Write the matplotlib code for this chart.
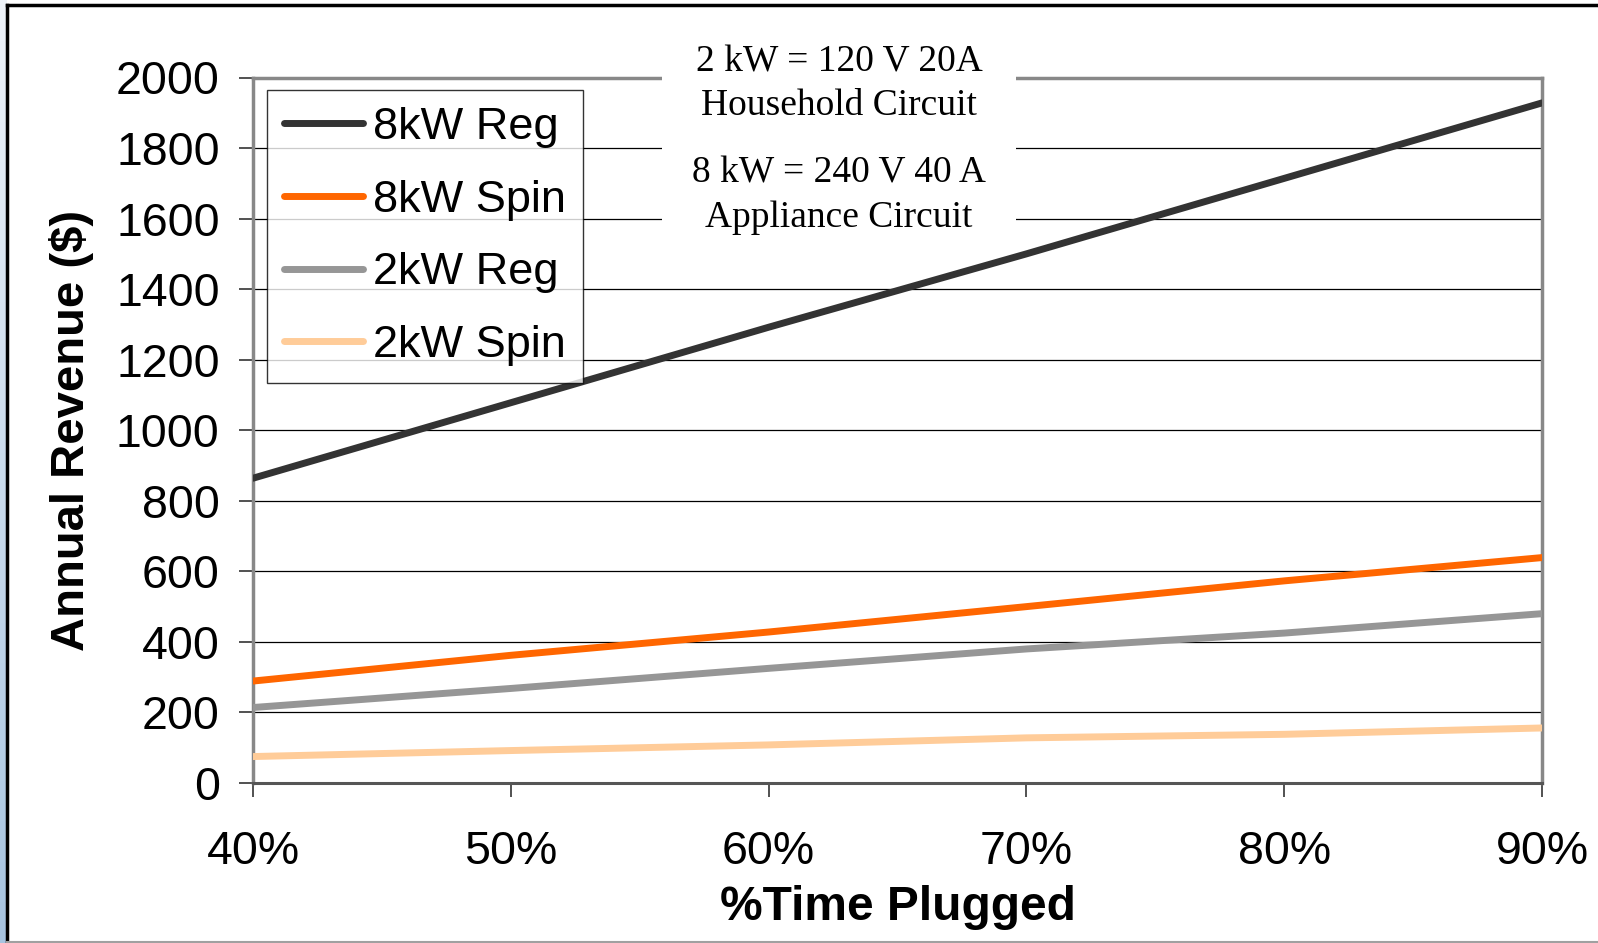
import numpy as np
import matplotlib
matplotlib.use("Agg")
import matplotlib.pyplot as plt
from matplotlib.patches import Rectangle
from matplotlib.colors import LinearSegmentedColormap

# data
pct_plugged = [40, 50, 60, 70, 80, 90]
x_tick_labels = ["40%", "50%", "60%", "70%", "80%", "90%"]
reg_8kw = [864, 1078, 1292, 1500, 1714, 1928]
spin_8kw = [289, 362, 428, 500, 573, 639]
reg_2kw = [214, 268, 325, 380, 425, 480]
spin_2kw = [75, 92, 108, 128, 138, 156]
y_ticks = [0, 200, 400, 600, 800, 1000, 1200, 1400, 1600, 1800, 2000]

series = [
    ("8kW Reg", reg_8kw, "#333333"),
    ("8kW Spin", spin_8kw, "#FF6600"),
    ("2kW Reg", reg_2kw, "#969696"),
    ("2kW Spin", spin_2kw, "#FFCC99"),
]

plt.rcParams['font.family'] = ['Liberation Sans', 'DejaVu Sans']

W, H = 1598, 943
fig = plt.figure(figsize=(W / 100, H / 100), dpi=100)
fig.patch.set_facecolor("white")

# light blue strip on the left edge (slide background)
strip = fig.add_axes([0, 0, 7 / W, 1])
grad = np.linspace(0, 1, 256).reshape(-1, 1)
cmap = LinearSegmentedColormap.from_list("bg", ["#eef3f9", "#a7c4e0"])
strip.imshow(grad, aspect="auto", cmap=cmap, extent=[0, 1, 0, 1], origin="upper")
strip.set_axis_off()

# outer frame lines
fig.add_artist(plt.Line2D([7 / W, 1], [1 - 5 / H, 1 - 5 / H], color="black", lw=2.5,
                          transform=fig.transFigure))
fig.add_artist(plt.Line2D([7 / W, 7 / W], [0, 1 - 5 / H], color="black", lw=2.5,
                          transform=fig.transFigure))
fig.add_artist(plt.Line2D([7 / W, 1], [1.5 / H, 1.5 / H], color="#a0a0a0", lw=1.5,
                          transform=fig.transFigure))

left, right, top, bottom = 253, 1542, 77.5, 783
ax = fig.add_axes([left / W, 1 - bottom / H, (right - left) / W, (bottom - top) / H])

for name, vals, col in series:
    ax.plot(pct_plugged, vals, color=col, lw=5, label=name, solid_capstyle="round", zorder=3)

ax.set_xlim(40, 90)
ax.set_ylim(0, 2000)
ax.set_xticks(pct_plugged)
ax.set_xticklabels(x_tick_labels)
ax.set_yticks(y_ticks)
for v in y_ticks[1:-1]:
    ax.axhline(v, color="black", lw=0.9, zorder=1)

ax.tick_params(axis="both", labelsize=33.5, direction="out", length=10, width=1.2, color="#333333")
ax.tick_params(axis="x", pad=24)
ax.tick_params(axis="y", pad=14)

for side in ["top", "right", "left"]:
    ax.spines[side].set_color("#888888")
    ax.spines[side].set_linewidth(2.5)
ax.spines["bottom"].set_color("#555555")
ax.spines["bottom"].set_linewidth(2.2)

ax.set_xlabel("%Time Plugged", fontsize=34.5, fontweight="bold", labelpad=8)
ax.set_ylabel("Annual Revenue ($)", fontsize=34, fontweight="bold", labelpad=16)

leg = fig.legend(loc="upper left", bbox_to_anchor=(267 / W, 1 - 90 / H), fontsize=32.5,
                 frameon=True, fancybox=False, edgecolor="black", borderaxespad=0,
                 handlelength=1.75, handletextpad=0.22, labelspacing=0.7,
                 borderpad=0.38)
leg.get_frame().set_linewidth(1.0)
for line in leg.get_lines():
    line.set_linewidth(5)

# white note box over the gridlines
fig.add_artist(Rectangle((662 / W, 1 - 240 / H), (1016 - 662) / W, (240 - 30) / H,
                         transform=fig.transFigure, facecolor="white", edgecolor="none",
                         zorder=5))
note_lines = [("2 kW = 120 V 20A", 62), ("Household Circuit", 106),
              ("8 kW = 240 V 40 A", 173), ("Appliance Circuit", 218)]
for txt, yy in note_lines:
    fig.text(839 / W, 1 - yy / H, txt, ha="center", va="center", fontsize=27,
             family=["Liberation Serif", "DejaVu Serif"], zorder=6)

fig.savefig("out.png", dpi=100)
